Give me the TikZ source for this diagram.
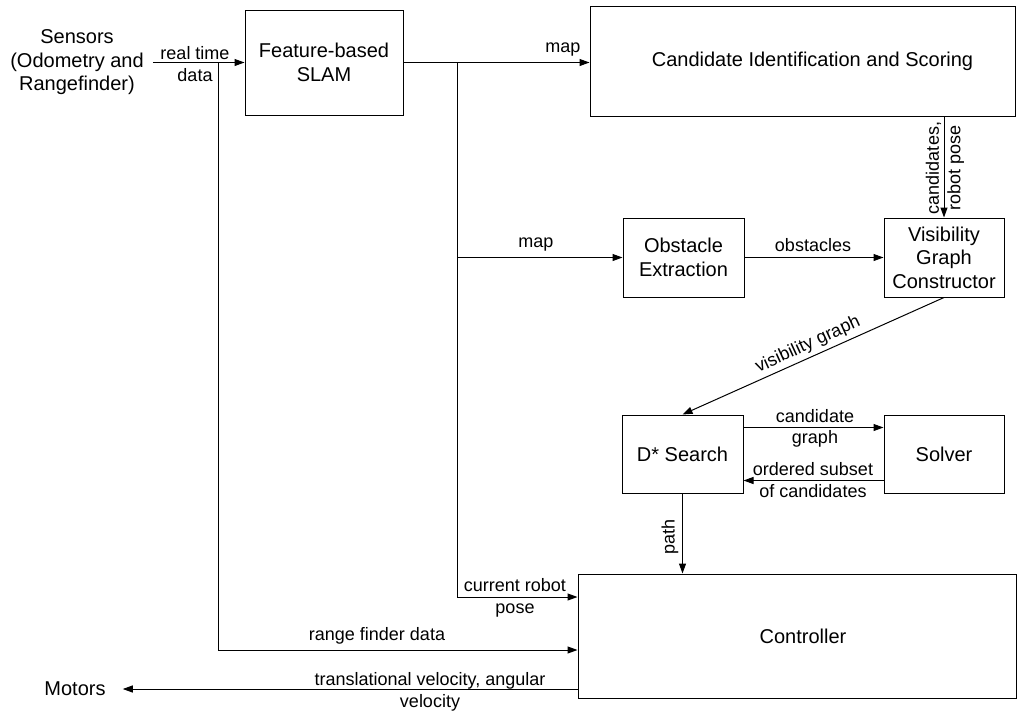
\documentclass[tikz,border=0pt]{standalone}
\usepackage{fontspec}
\setmainfont{Liberation Sans}
\usetikzlibrary{arrows.meta,calc}

\begin{document}
\begin{tikzpicture}[x=1pt,y=-1pt,
  box/.style={draw, line width=1pt, inner sep=0pt, align=center,
              font=\fontsize{20}{23.5}\selectfont},
  term/.style={inner sep=0pt, align=center, font=\fontsize{20}{23.5}\selectfont},
  lbl/.style={inner sep=0pt, align=center, font=\fontsize{18}{21.5}\selectfont},
  flow/.style={line width=1pt, -{Triangle[length=10pt,width=7pt]}}]
\useasboundingbox (0,0) rectangle (1018,710);

% terminals
\node[term, inner xsep=9pt] (sensors) at (77,62.5) {Sensors\\(Odometry and\\Rangefinder)};
\node[term, inner xsep=17pt] (motors) at (75,689) {Motors};

% processing blocks
\node[box, minimum width=158pt, minimum height=105pt] (slam) at (324,62.5) {Feature-based\\SLAM};
\node[box, minimum width=425pt, minimum height=110pt] (cand) at (802.5,61)
  {\hspace*{20pt}Candidate Identification and Scoring};
\node[box, minimum width=121pt, minimum height=79pt] (obst) at (683.5,257.5) {Obstacle\\Extraction};
\node[box, minimum width=120pt, minimum height=79pt] (vis) at (944,257.5) {Visibility\\Graph\\Constructor};
\node[box, minimum width=121pt, minimum height=78pt] (dstar) at (682.5,454) {D* Search};
\node[box, minimum width=120pt, minimum height=78pt] (solver) at (944,454) {Solver};
\node[box, minimum width=438pt, minimum height=124pt] (ctrl) at (797,636)
  {\hspace*{12pt}Controller};

% branch points
\coordinate (rawtap) at (218,62.5);
\coordinate (rawbend) at (218,650);
\coordinate (maptap) at (457,62.5);
\coordinate (mapsplit) at (457,257.5);
\coordinate (posebend) at (457,597);

% connectors
\draw[flow] (sensors.east) -- (slam.west);
\draw[flow] (rawtap) -- (rawbend) -- (ctrl.west |- rawbend);
\draw[flow] (slam.east) -- (cand.west |- slam.east);
\draw[flow] (maptap) -- (posebend) -- (ctrl.west |- posebend);
\draw[flow] (mapsplit) -- (obst.west);
\draw[flow] (obst.east) -- (vis.west);
\draw[flow] (cand.south -| vis.north) -- (vis.north);
\draw[flow] (vis.south) -- (dstar.north);
\draw[flow] ($(dstar.north east)+(0,13)$) -- ($(solver.north west)+(0,13)$);
\draw[flow] ($(solver.south west)+(0,-13)$) -- ($(dstar.south east)+(0,-13)$);
\draw[flow] (dstar.south) -- (dstar.south |- ctrl.north);
\draw[flow] (ctrl.west |- motors) -- (motors.east);

% connector labels
\node[lbl] (lrealtime) at (195,64) {real time\\data};
\node[lbl] (lmap1) at (563,50) {map};
\node[lbl] (lmap2) at (536,245) {map};
\node[lbl] (lobst) at (813,245) {obstacles};
\node[lbl, rotate=90] (lcand) at (945,168) {candidates,\\robot pose};
\node[lbl, rotate=24.7] (lvis) at (808,345) {visibility graph};
\node[lbl] (lcgraph) at (815,428.5) {candidate\\graph};
\node[lbl] (lsubset) at (813,480) {ordered subset\\of candidates};
\node[lbl, rotate=90] (lpath) at (670,537) {path};
\node[lbl] (lpose) at (515,598) {current robot\\pose};
\node[lbl] (lrange) at (377,636) {range finder data};
\node[lbl] (lvel) at (430,692) {translational velocity, angular\\velocity};
\end{tikzpicture}
\end{document}
